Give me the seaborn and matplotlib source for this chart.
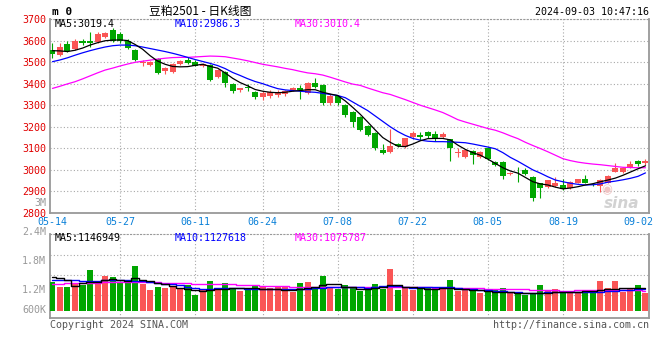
#!/usr/bin/env python3

import numpy as np
import matplotlib
matplotlib.use("Agg")
import matplotlib.pyplot as plt
import seaborn as sns

# trading-day index of the labelled dates
tick_idx = [0, 9, 19, 28, 38, 48, 58, 68, 78]
tick_lbl = ["05-14", "05-27", "06-11", "06-24", "07-08", "07-22", "08-05", "08-19", "09-02"]

opens = [3556, 3533, 3584, 3559, 3598, 3598, 3595, 3618, 3649, 3630,
         3600, 3556, 3494, 3487, 3513, 3459, 3456, 3490, 3510, 3502,
         3484, 3487, 3432, 3456, 3400, 3371, 3385, 3363, 3337, 3343,
         3348, 3350, 3371, 3380, 3355, 3405, 3393, 3308, 3343, 3301,
         3270, 3247, 3203, 3173, 3092, 3084, 3120, 3107, 3151, 3162,
         3177, 3167, 3154, 3142, 3077, 3061, 3088, 3061, 3100, 3038,
         3038, 2981, 2992, 3000, 2968, 2938, 2919, 2925, 2930, 2915,
         2941, 2958, 2932, 2925, 2941, 2992, 2990, 3015, 3043, 3030]
highs = [3588, 3590, 3598, 3605, 3606, 3641, 3640, 3640, 3660, 3640,
         3605, 3560, 3510, 3506, 3518, 3478, 3495, 3510, 3525, 3508,
         3498, 3490, 3470, 3460, 3405, 3382, 3398, 3366, 3365, 3370,
         3370, 3372, 3385, 3392, 3406, 3425, 3398, 3350, 3348, 3305,
         3275, 3250, 3208, 3178, 3120, 3189, 3125, 3150, 3180, 3178,
         3182, 3180, 3178, 3145, 3100, 3095, 3092, 3088, 3105, 3040,
         3040, 2992, 3015, 3007, 2972, 2940, 2955, 2968, 2958, 2948,
         2960, 2975, 2935, 2958, 2976, 3030, 3015, 3043, 3048, 3050]
lows = [3519, 3528, 3545, 3555, 3578, 3572, 3590, 3612, 3592, 3588,
        3560, 3505, 3480, 3482, 3445, 3445, 3450, 3485, 3490, 3480,
        3478, 3412, 3425, 3385, 3358, 3360, 3365, 3330, 3325, 3335,
        3340, 3345, 3365, 3330, 3350, 3378, 3300, 3300, 3300, 3245,
        3200, 3180, 3155, 3090, 3072, 3080, 3105, 3100, 3148, 3140,
        3150, 3135, 3150, 3043, 3061, 3055, 3027, 3055, 3045, 3018,
        2958, 2975, 2945, 2975, 2857, 2870, 2915, 2919, 2905, 2910,
        2938, 2938, 2925, 2899, 2938, 2990, 2985, 3010, 3020, 3023]
closes = [3536, 3572, 3550, 3600, 3588, 3588, 3632, 3633, 3600, 3597,
          3565, 3510, 3502, 3502, 3450, 3474, 3490, 3505, 3494, 3484,
          3492, 3418, 3463, 3402, 3365, 3378, 3382, 3337, 3355, 3363,
          3363, 3366, 3378, 3370, 3402, 3383, 3308, 3343, 3312, 3255,
          3224, 3185, 3162, 3100, 3080, 3110, 3111, 3146, 3169, 3154,
          3157, 3143, 3166, 3100, 3084, 3092, 3069, 3084, 3049, 3023,
          2972, 2987, 2990, 2981, 2868, 2915, 2953, 2938, 2910, 2945,
          2958, 2941, 2930, 2953, 2972, 3007, 3007, 3027, 3027, 3043]

ma5 = [3553, 3552, 3549, 3555, 3565, 3579, 3590, 3599, 3602, 3603,
       3600, 3582, 3560, 3530, 3505, 3490, 3480, 3478, 3479, 3485,
       3490, 3480, 3472, 3450, 3425, 3405, 3390, 3373, 3365, 3360,
       3358, 3360, 3365, 3368, 3372, 3372, 3360, 3352, 3345, 3320,
       3290, 3258, 3222, 3185, 3150, 3128, 3110, 3108, 3120, 3135,
       3145, 3146, 3146, 3139, 3115, 3095, 3080, 3068, 3050, 3030,
       3010, 2995, 2985, 2965, 2945, 2935, 2930, 2920, 2912, 2916,
       2922, 2930, 2936, 2945, 2953, 2962, 2975, 2990, 3005, 3019]
ma10 = [3502, 3510, 3520, 3532, 3543, 3553, 3562, 3570, 3576, 3579,
        3579, 3576, 3570, 3563, 3556, 3549, 3541, 3532, 3522, 3512,
        3503, 3494, 3484, 3470, 3452, 3438, 3423, 3410, 3400, 3388,
        3377, 3371, 3368, 3365, 3362, 3360, 3355, 3350, 3345, 3335,
        3315, 3295, 3275, 3250, 3225, 3200, 3178, 3160, 3146, 3138,
        3133, 3131, 3131, 3130, 3128, 3126, 3120, 3113, 3106, 3098,
        3080, 3058, 3040, 3020, 3000, 2985, 2968, 2953, 2945, 2938,
        2933, 2930, 2931, 2935, 2943, 2948, 2954, 2961, 2970, 2986]
ma30 = [3378, 3388, 3399, 3409, 3422, 3436, 3450, 3463, 3472, 3482,
        3491, 3499, 3504, 3509, 3514, 3518, 3521, 3522, 3522, 3524,
        3526, 3528, 3527, 3525, 3519, 3513, 3506, 3498, 3490, 3484,
        3478, 3471, 3465, 3457, 3450, 3446, 3440, 3430, 3419, 3408,
        3398, 3392, 3380, 3369, 3358, 3350, 3338, 3326, 3313, 3300,
        3289, 3278, 3266, 3250, 3233, 3222, 3212, 3202, 3192, 3184,
        3172, 3158, 3145, 3128, 3113, 3099, 3084, 3068, 3052, 3043,
        3036, 3031, 3027, 3024, 3020, 3016, 3012, 3011, 3010, 3010]

# volume, thousand lots
volume = [1340, 1190, 1190, 1310, 1240, 1690, 1290, 1520, 1470, 1310,
          1360, 1810, 1270, 1090, 1170, 1150, 1170, 1140, 1240, 940,
          1110, 1360, 1140, 1290, 1160, 1060, 1140, 1220, 1170, 1140,
          1190, 1190, 1040, 1310, 1340, 1190, 1520, 1160, 1110, 1240,
          1190, 1060, 1110, 1270, 1110, 1720, 1090, 1160, 1090, 1160,
          1140, 1140, 1140, 1390, 1070, 1090, 1140, 1010, 1040, 1110,
          1140, 1010, 970, 940, 990, 1240, 1070, 1110, 1070, 1040,
          1040, 1020, 1020, 1360, 1140, 1360, 1040, 1140, 1240, 1010]
vma5 = [1490, 1440, 1390, 1210, 1310, 1330, 1340, 1380, 1410, 1400,
        1370, 1460, 1400, 1370, 1310, 1280, 1210, 1160, 1110, 1090,
        1070, 1100, 1110, 1130, 1140, 1140, 1140, 1140, 1130, 1110,
        1110, 1100, 1090, 1110, 1150, 1190, 1230, 1270, 1260, 1190,
        1190, 1110, 1120, 1140, 1180, 1240, 1240, 1190, 1190, 1150,
        1110, 1120, 1140, 1140, 1130, 1110, 1100, 1090, 1060, 1020,
        1020, 1020, 1010, 990, 990, 1000, 1010, 1020, 1020, 1030,
        1040, 1050, 1060, 1090, 1120, 1130, 1140, 1140, 1150, 1147]
vma10 = [1390, 1390, 1380, 1380, 1370, 1370, 1370, 1380, 1390, 1390,
         1390, 1370, 1350, 1340, 1310, 1280, 1260, 1230, 1190, 1150,
         1120, 1130, 1140, 1140, 1140, 1140, 1130, 1120, 1120, 1120,
         1110, 1110, 1110, 1120, 1130, 1150, 1160, 1190, 1190, 1190,
         1190, 1170, 1160, 1180, 1200, 1210, 1200, 1170, 1160, 1170,
         1180, 1190, 1190, 1180, 1140, 1120, 1110, 1100, 1090, 1070,
         1060, 1040, 1030, 1010, 1010, 1010, 1020, 1030, 1040, 1030,
         1020, 1020, 1030, 1040, 1060, 1070, 1080, 1090, 1110, 1128]
vma30 = [1270, 1280, 1290, 1300, 1310, 1310, 1310, 1320, 1320, 1320,
         1320, 1320, 1320, 1320, 1320, 1310, 1300, 1290, 1290, 1280,
         1280, 1280, 1270, 1270, 1270, 1250, 1240, 1230, 1220, 1210,
         1200, 1200, 1190, 1190, 1190, 1190, 1190, 1180, 1180, 1170,
         1170, 1170, 1170, 1170, 1170, 1170, 1170, 1170, 1170, 1170,
         1170, 1160, 1160, 1160, 1160, 1160, 1150, 1140, 1130, 1130,
         1120, 1120, 1110, 1110, 1100, 1090, 1080, 1080, 1070, 1070,
         1080, 1080, 1090, 1090, 1090, 1090, 1080, 1080, 1080, 1076]

RED = "#fa5555"
GREEN = "#00a600"
GRID = "#a8a8a8"
FIG_W, FIG_H = 660, 360


def fpos(px, py):
    return px / FIG_W, 1 - py / FIG_H


sns.set_style("white")
plt.rcParams["font.family"] = ["DejaVu Sans Mono"]

fig = plt.figure(figsize=(6.6, 3.6), dpi=100)
ax = fig.add_axes([50 / FIG_W, 1 - 213 / FIG_H, 599 / FIG_W, 194 / FIG_H])
axv = fig.add_axes([50 / FIG_W, 1 - 318 / FIG_H, 599 / FIG_W, 84 / FIG_H])

x = np.arange(len(closes))
o = np.array(opens, float)
c = np.array(closes, float)
up = c >= o
colors = np.where(up, RED, GREEN)

# candles
ax.vlines(x, lows, highs, colors=colors, lw=0.8, zorder=3)
body_h = np.maximum(np.abs(c - o), 2.5)
ax.bar(x, body_h, bottom=np.minimum(o, c), width=0.8, color=colors, linewidth=0, zorder=4)

# moving averages
sns.lineplot(x=x, y=ma30, color="#ff00ff", lw=0.9, ax=ax, zorder=5)
sns.lineplot(x=x, y=ma10, color="#0000ff", lw=0.9, ax=ax, zorder=5)
sns.lineplot(x=x, y=ma5, color="black", lw=0.9, ax=ax, zorder=5)

# volume
vol = np.array(volume) * 1000.0
vol_base = 470000
axv.bar(x, vol - vol_base, bottom=vol_base, width=0.8, color=colors, linewidth=0, zorder=3)
sns.lineplot(x=x, y=np.array(vma30) * 1000, color="#ff00ff", lw=1.0, drawstyle="steps-mid", ax=axv, zorder=5)
sns.lineplot(x=x, y=np.array(vma10) * 1000, color="#0000ff", lw=1.0, drawstyle="steps-mid", ax=axv, zorder=5)
sns.lineplot(x=x, y=np.array(vma5) * 1000, color="black", lw=1.0, drawstyle="steps-mid", ax=axv, zorder=5)

for a in (ax, axv):
    a.set_xlim(-0.33, 79.47)
    a.set_xlabel("")
    a.set_ylabel("")
    a.set_xticks(tick_idx)
    a.grid(True, ls=(0, (1, 2)), color=GRID, lw=0.8)
    a.tick_params(length=0)
    for s in a.spines.values():
        s.set_color("#999999")
        s.set_linewidth(1.3)
    a.spines["top"].set_linewidth(0.8)
    a.spines["top"].set_linestyle((0, (1, 2)))
    gl = a.get_xgridlines()
    gl[0].set_visible(False)
    gl[-1].set_visible(False)

ax.set_ylim(2800, 3700)
ax.set_yticks(range(2800, 3701, 100))
ax.set_yticklabels([str(v) for v in range(2800, 3701, 100)], color="#e00000", fontsize=7.2)
ax.set_xticklabels(tick_lbl, color="#0a80d8", fontsize=7.2)
ax.tick_params(axis="x", pad=3)
ax.tick_params(axis="y", pad=3)

axv.set_ylim(251000, 2771000)
axv.set_yticks([941000, 1541000, 2141000])
axv.set_yticklabels([])
axv.set_xticklabels([])

# volume scale labels
for lbl, py in [("3M", 203), ("2.4M", 232), ("1.8M", 261), ("1.2M", 290), ("600K", 310)]:
    fig.text(*fpos(46, py), lbl, ha="right", va="center", color="#999999", fontsize=7.2)

# header
fig.text(*fpos(52, 12), "m 0", ha="left", va="center", fontsize=8, fontweight="bold", color="black")
fig.text(*fpos(200, 12), "豆粕2501 - 日K线图", ha="center", va="center", fontsize=8.5,
         family=["Noto Sans CJK SC", "DejaVu Sans"], color="black")
fig.text(*fpos(649, 12), "2024-09-03 10:47:16", ha="right", va="center", fontsize=7.2, color="black")

# legends
fig.text(*fpos(55, 24), "MA5:3019.4", ha="left", va="center", fontsize=7.2, color="black")
fig.text(*fpos(175, 24), "MA10:2986.3", ha="left", va="center", fontsize=7.2, color="#0000ff")
fig.text(*fpos(295, 24), "MA30:3010.4", ha="left", va="center", fontsize=7.2, color="#ff00ff")
fig.text(*fpos(55, 238), "MA5:1146949", ha="left", va="center", fontsize=7.2, color="black")
fig.text(*fpos(175, 238), "MA10:1127618", ha="left", va="center", fontsize=7.2, color="#0000ff")
fig.text(*fpos(295, 238), "MA30:1075787", ha="left", va="center", fontsize=7.2, color="#ff00ff")

# watermark (sina eye + word) and footer
fig.text(*fpos(607, 190), "◉", ha="center", va="center", fontsize=9, family="DejaVu Sans", color="#f0c4c4")
fig.text(*fpos(622, 204), "sina", ha="center", va="center", fontsize=11, fontweight="bold",
         style="italic", family="DejaVu Sans", color="#d2d2d2")
fig.text(*fpos(50, 325), "Copyright 2024 SINA.COM", ha="left", va="center", fontsize=7.2, color="#555555")
fig.text(*fpos(649, 325), "http://finance.sina.com.cn", ha="right", va="center", fontsize=7.2, color="#555555")

fig.savefig("out.png", dpi=100, facecolor="white")
plt.close(fig)
